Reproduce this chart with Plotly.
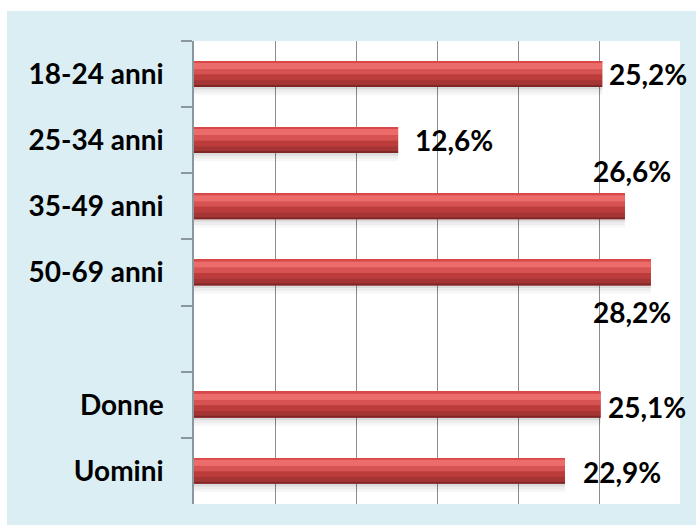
import plotly.graph_objects as go

# ---- data ----
categories = ["18-24 anni", "25-34 anni", "35-49 anni", "50-69 anni", " ", "Donne", "Uomini"]
values = [25.2, 12.6, 26.6, 28.2, None, 25.1, 22.9]
value_labels = ["25,2%", "12,6%", "26,6%", "28,2%", "", "25,1%", "22,9%"]
x_ticks = [0, 5, 10, 15, 20, 25, 30]

# ---- label placement (style) ----
lab_xanchor = ["left", "left", "center", "center", "left", "left", "left"]
lab_xshift = [5, 15, 7, -19, 0, 5, 16]
lab_yshift = [0, 0, 35, -39, 0, -2, -1]

FONT = "Lato"
BAR_W = 0.39

# vertical gradient bands of the bar: (start fraction from top, end fraction, colour)
bands = [
    (0.00, 1.00, "#C04040"),
    (0.00, 0.07, "#D84848"),
    (0.07, 0.32, "#EC6C6B"),
    (0.32, 0.52, "#D65352"),
    (0.52, 0.74, "#BC3C3C"),
    (0.74, 0.92, "#A53434"),
    (0.92, 1.00, "#7E2727"),
]
shadow_bands = [
    (1.00, 1.10, "rgba(0,0,0,0.14)"),
    (1.10, 1.22, "rgba(0,0,0,0.07)"),
    (1.22, 1.32, "rgba(0,0,0,0.03)"),
]

fig = go.Figure()

for f0, f1, col in shadow_bands + bands:
    fig.add_trace(go.Bar(
        y=categories, x=values, orientation="h",
        width=BAR_W * (f1 - f0), offset=-BAR_W / 2 + BAR_W * f0,
        marker=dict(color=col, line=dict(width=0)),
        hoverinfo="skip", showlegend=False,
    ))

annotations = []
for cat, v, txt, xa, xs, ys in zip(categories, values, value_labels,
                                    lab_xanchor, lab_xshift, lab_yshift):
    if v is None:
        continue
    annotations.append(dict(
        x=v, y=cat, xref="x", yref="y", text=txt, showarrow=False,
        xanchor=xa, yanchor="middle", xshift=xs, yshift=ys,
        font=dict(family=FONT, size=28, color="black", weight="bold"),
    ))

BLUE = "#DBEEF4"
fig.update_layout(
    width=696, height=525,
    margin=dict(l=194, r=16, t=41, b=21, pad=0),
    paper_bgcolor=BLUE,
    plot_bgcolor="white",
    barmode="overlay",
    showlegend=False,
    annotations=annotations,
    font=dict(family=FONT, color="black"),
    shapes=[
        # white strips outside the blue frame
        dict(type="rect", xref="paper", yref="paper",
             x0=-1, x1=2, y0=(504 - 11) / 463, y1=2,
             fillcolor="white", line=dict(width=0), layer="above"),
        dict(type="rect", xref="paper", yref="paper",
             x0=-1, x1=(7 - 194) / 486, y0=-1, y1=2,
             fillcolor="white", line=dict(width=0), layer="above"),
    ],
    xaxis=dict(
        range=[0, 30], tickvals=x_ticks, showticklabels=False,
        showgrid=True, gridcolor="#8C8C8C", gridwidth=1,
        zeroline=False, showline=False, ticks="", fixedrange=True,
    ),
    yaxis=dict(
        type="category", categoryorder="array", categoryarray=categories,
        autorange="reversed",
        tickson="boundaries", ticks="outside", ticklen=11,
        tickcolor="#8A979D", tickwidth=1.5,
        showline=True, linecolor="#8A979D", linewidth=1.5,
        showgrid=False, zeroline=False,
        ticklabelstandoff=23,
        tickfont=dict(family=FONT, size=28, color="black", weight="bold"),
    ),
)

fig.write_html(
    "out.html",
    config={"displayModeBar": False},
    post_script="document.body.style.margin='0';document.body.style.overflow='hidden';",
)
